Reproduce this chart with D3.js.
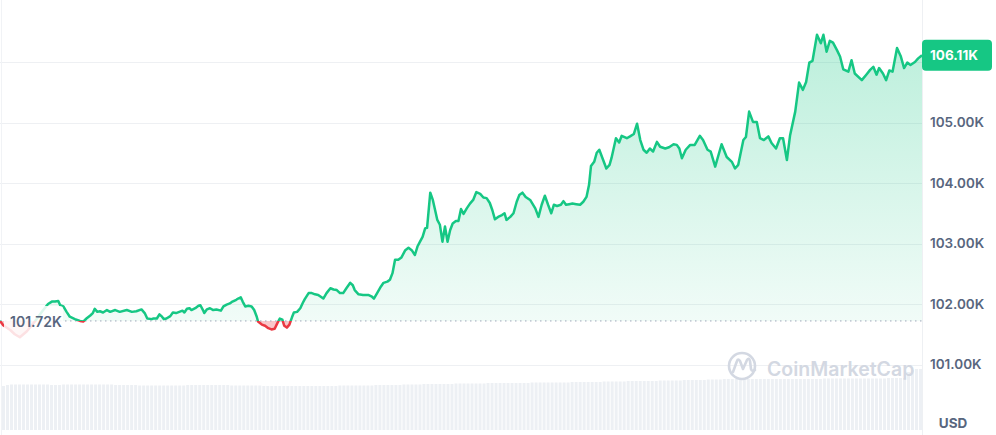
<!DOCTYPE html>
<html><head><meta charset="utf-8">
<script src="https://cdn.jsdelivr.net/npm/d3@7/dist/d3.min.js"></script>
<style>
html,body{margin:0;padding:0;background:#fff;}
svg{display:block;font-family:Inter,"Noto Sans",sans-serif;}
</style></head>
<body>
<svg id="chart" width="996" height="435"></svg>
<script>
// ---- DATA ----
const times = [ // minutes since start of 24h window
0,5,16,23,31,42,55,66,75,81,
86,91,94,99,104,109,117,125,130,135,
141,145,148,152,156,161,167,172,180,187,
198,206,213,221,226,230,237,239,245,249,
253,256,260,266,270,275,280,285,288,292,
296,299,305,310,313,317,319,323,328,333,
338,345,349,354,359,363,369,372,376,379,
383,388,393,397,401,403,409,414,419,424,
429,433,437,441,444,448,452,456,459,464,
469,473,476,482,487,492,497,505,510,516,
521,526,531,536,541,547,551,554,560,567,
575,581,584,589,595,599,605,609,613,617,
622,627,633,638,643,648,652,656,660,664,
667,672,676,679,683,687,691,695,699,703,
707,712,716,720,724,729,734,739,744,750,
755,760,765,769,773,778,784,788,791,797,
802,807,811,816,821,828,836,841,846,851,
856,861,865,870,876,880,884,889,894,900,
906,911,916,920,923,928,932,936,941,947,
952,955,962,967,971,979,984,990,995,1000,
1005,1010,1015,1020,1026,1031,1039,1045,1052,1057,
1061,1065,1071,1078,1085,1093,1098,1105,1110,1117,
1127,1135,1143,1148,1153,1161,1165,1170,1176,1182,
1187,1193,1200,1205,1212,1218,1223,1229,1234,1242,
1248,1254,1259,1264,1269,1276,1282,1286,1291,1296,
1301,1307,1312,1317,1325,1330,1335,1346,1353,1359,
1364,1369,1373,1379,1384,1389,1394,1401,1407,1412,
1417,1422,1429,1434,1440];
const prices = [ // thousands USD
101.72,101.65,101.57,101.50,101.45,101.55,101.72,101.88,102.00,102.04,
102.04,102.05,101.98,101.96,101.87,101.79,101.75,101.72,101.71,101.76,
101.81,101.85,101.92,101.87,101.88,101.86,101.90,101.87,101.90,101.87,
101.90,101.87,101.88,101.91,101.85,101.76,101.75,101.76,101.76,101.83,
101.79,101.75,101.76,101.80,101.86,101.85,101.87,101.89,101.86,101.92,
101.93,101.90,101.93,101.97,101.98,101.90,101.85,101.91,101.93,101.90,
101.91,101.89,101.96,101.99,102.01,102.04,102.07,102.09,102.11,102.04,
101.96,101.97,101.96,101.90,101.79,101.71,101.66,101.64,101.60,101.58,
101.59,101.68,101.76,101.74,101.64,101.61,101.66,101.78,101.86,101.87,
101.93,102.02,102.08,102.18,102.18,102.16,102.15,102.09,102.18,102.26,
102.24,102.23,102.18,102.18,102.26,102.35,102.31,102.23,102.16,102.15,
102.15,102.12,102.09,102.18,102.29,102.35,102.37,102.40,102.51,102.73,
102.73,102.77,102.89,102.93,102.89,102.81,102.95,103.03,103.11,103.25,
103.26,103.84,103.72,103.58,103.39,103.31,103.03,103.28,103.03,103.22,
103.33,103.37,103.37,103.57,103.49,103.58,103.66,103.72,103.85,103.82,
103.76,103.75,103.67,103.55,103.40,103.44,103.47,103.50,103.39,103.44,
103.50,103.69,103.80,103.84,103.77,103.72,103.58,103.44,103.64,103.79,
103.64,103.50,103.64,103.62,103.64,103.70,103.64,103.65,103.66,103.65,
103.64,103.69,103.77,103.97,104.28,104.35,104.50,104.55,104.41,104.24,
104.30,104.41,104.74,104.67,104.78,104.74,104.77,104.81,104.98,104.71,
104.55,104.50,104.57,104.52,104.68,104.60,104.57,104.59,104.64,104.63,
104.57,104.41,104.55,104.63,104.63,104.78,104.71,104.55,104.52,104.27,
104.64,104.43,104.35,104.24,104.30,104.71,104.76,105.18,105.01,105.01,
104.74,104.71,104.77,104.66,104.57,104.74,104.74,104.38,104.79,105.18,
105.66,105.54,105.67,105.99,106.02,106.45,106.31,106.45,106.17,106.35,
106.32,106.20,106.09,105.88,105.84,106.03,105.81,105.70,105.79,105.87,
105.92,105.79,105.90,105.81,105.70,105.86,105.84,106.23,106.09,105.90,
105.99,105.95,106.00,106.06,106.11];
const volumes = [ // 24h volume, billions USD
44,45,45.5,45.5,45.5,45.5,45.5,45.5,45.5,45.5,
45.5,45.5,45,45,45,45.5,45.5,45.5,45.5,45.5,
45.5,45.5,45.5,45.5,45.5,45.5,45.5,45.5,45,45,
45,45,45,45,44.5,44.5,44.5,44.5,44.5,44.5,
44.5,44.5,44.5,44.5,44.5,44.5,45,45,45,45,
45,45,45,45,45,45,45,44.5,44.5,44.5,
44.5,44.5,44.5,44.5,44.5,44,44,44,44,44,
44,44,44,44,44,44,44,44,44,44,
44,44,44,44,44.5,44.5,44.5,44.5,44.5,44.5,
44.5,44.5,44.5,45,45,45,45,45,45,45,
45.5,45.5,45.5,45.5,45.5,46,46,46,46,46,
46,46,46,46.5,46.5,46.5,46.5,46.5,46.5,46.5,
46.5,47,47,47,47,47,47,47,47,47,
47,47,47.5,47.5,47.5,47.5,47.5,47.5,47.5,47.5,
47.5,47.5,48,48,48,48,48,48,48,48,
48.5,48.5,48.5,48.5,48.5,48.5,49,49,49,49,
49,49,49,49,49.5,49.5,49.5,49.5,49.5,49.5,
50,50,50,50,50,50,50.5,50.5,50.5,50.5,
51,51,51,51,51,51,51,51,51,51,
51,51,51,51,51,51,51,51,51,51,
51,51,51,51,51,51.5,51.5,51.5,51.5,51.5,
51.5,51.5,51.5,51.5,51.5,51.5,51.5,51.5,51.5,51.5,
51.5,52,52,52,52,52,58,60,61,61];
const yTicks = [101, 102, 103, 104, 105];
const openPrice = 101.72;
const lastPrice = 106.11;
const unitLabel = "USD";
const watermark = "CoinMarketCap";

// ---- LAYOUT ----
const svg = d3.select("#chart");
const plotL = 0, plotR = 922, W = 996, H = 435;
const x = d3.scaleLinear().domain([0, 1440]).range([plotL, plotR]);
const y = d3.scaleLinear().domain([101, 107]).range([364.5, 1.5]);
const xb = d3.scaleBand().domain(d3.range(volumes.length)).range([2, plotR]).paddingInner(0.25).paddingOuter(0);
const yv = d3.scaleLinear().domain([0, 70]).range([430, 360]);

const GREEN = "#16c784", RED = "#ea3943", TXT = "#58667e";
const baseY = y(openPrice);
const data = times.map((t, i) => ({t, p: prices[i]}));

const defs = svg.append("defs");
const gg = defs.append("linearGradient").attr("id","gGreen").attr("gradientUnits","userSpaceOnUse")
  .attr("x1",0).attr("x2",0).attr("y1",0).attr("y2",baseY);
gg.append("stop").attr("offset",0).attr("stop-color",GREEN).attr("stop-opacity",0.32);
gg.append("stop").attr("offset",1).attr("stop-color",GREEN).attr("stop-opacity",0.06);
defs.append("clipPath").attr("id","cAbove").append("rect").attr("x",plotL).attr("y",0).attr("width",plotR-plotL).attr("height",baseY);
defs.append("clipPath").attr("id","cBelow").append("rect").attr("x",plotL).attr("y",baseY).attr("width",plotR-plotL).attr("height",H-baseY);

// volume bars
svg.append("g").selectAll("rect").data(volumes).join("rect")
  .attr("x",(d,i)=>xb(i)).attr("width",xb.bandwidth())
  .attr("y",d=>yv(d)).attr("height",d=>yv(0)-yv(d))
  .attr("fill","#edf0f4");

// gridlines
svg.append("g").selectAll("line").data(yTicks.concat([106])).join("line")
  .attr("x1",plotL).attr("x2",plotR).attr("y1",d=>Math.round(y(d))+0.5).attr("y2",d=>Math.round(y(d))+0.5)
  .attr("stroke","#eef0f3").attr("stroke-width",1);
// borders
svg.append("line").attr("x1",plotR+0.5).attr("x2",plotR+0.5).attr("y1",0).attr("y2",H).attr("stroke","#eef0f3");
svg.append("line").attr("x1",1.5).attr("x2",1.5).attr("y1",0).attr("y2",H).attr("stroke","#f1f3f6");

// watermark
const wm = svg.append("g");
wm.append("circle").attr("cx",742).attr("cy",366).attr("r",13).attr("fill","none").attr("stroke","#d3d8e2").attr("stroke-width",2.6);
wm.append("path").attr("d","M733,372 L737,361 Q738,358 740,361 L743,369 L747,360 Q749,357 750,361 L751,369 Q752,372 755,370")
  .attr("fill","none").attr("stroke","#d3d8e2").attr("stroke-width",2.6).attr("stroke-linecap","round").attr("stroke-linejoin","round");
wm.append("text").attr("x",767).attr("y",376).text(watermark)
  .attr("font-size",19.5).attr("font-weight",600).attr("fill","#d3d8e2");

// area fills
const areaG = d3.area().x(d=>x(d.t)).y0(baseY).y1(d=>y(d.p));
svg.append("path").datum(data).attr("d",areaG).attr("fill","url(#gGreen)").attr("clip-path","url(#cAbove)");
svg.append("path").datum(data).attr("d",areaG).attr("fill",RED).attr("fill-opacity",0.28).attr("clip-path","url(#cBelow)");

// baseline dotted
svg.append("line").attr("x1",plotL).attr("x2",plotR).attr("y1",baseY).attr("y2",baseY)
  .attr("stroke","#9ea6b8").attr("stroke-width",1).attr("stroke-dasharray","1.5,3.5");

// price line
const line = d3.line().x(d=>x(d.t)).y(d=>y(d.p));
svg.append("path").datum(data).attr("d",line).attr("fill","none").attr("stroke",GREEN).attr("stroke-width",2.5)
  .attr("stroke-linejoin","round").attr("clip-path","url(#cAbove)");
svg.append("path").datum(data).attr("d",line).attr("fill","none").attr("stroke",RED).attr("stroke-width",2.5)
  .attr("stroke-linejoin","round").attr("clip-path","url(#cBelow)");

// open price label (semi-opaque backing)
svg.append("rect").attr("x",4).attr("y",306).attr("width",59).attr("height",35).attr("rx",3).attr("fill","#fff").attr("opacity",0.85);
svg.append("text").attr("x",10).attr("y",baseY+1).attr("dy","0.36em").text(d3.format(".2f")(openPrice)+"K")
  .attr("font-size",14).attr("font-weight",600).attr("fill",TXT);

// y axis labels
svg.append("g").selectAll("text").data(yTicks).join("text")
  .attr("x",930).attr("y",d=>y(d)).attr("dy","0.36em").text(d=>d3.format(".2f")(d)+"K")
  .attr("font-size",13.5).attr("font-weight",600).attr("fill",TXT);

// last price tag
const lpY = y(lastPrice);
svg.append("rect").attr("x",plotR).attr("y",lpY-15.5).attr("width",70).attr("height",31).attr("rx",4).attr("fill",GREEN);
svg.append("text").attr("x",930).attr("y",lpY).attr("dy","0.36em").text(d3.format(".2f")(lastPrice)+"K")
  .attr("font-size",13.5).attr("font-weight",700).attr("fill","#fff");

// unit label
svg.append("text").attr("x",953).attr("y",423).attr("dy","0.36em").attr("text-anchor","middle").text(unitLabel)
  .attr("font-size",13.5).attr("font-weight",700).attr("fill",TXT);
</script>
</body></html>
